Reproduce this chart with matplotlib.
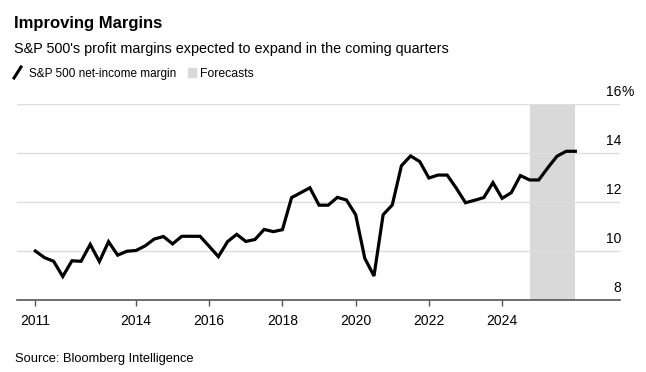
import numpy as np
import matplotlib
matplotlib.use("Agg")
import matplotlib.pyplot as plt
from matplotlib.transforms import blended_transform_factory
from matplotlib.lines import Line2D
from matplotlib.patches import Rectangle

plt.rcParams['font.family'] = ['Liberation Sans', 'DejaVu Sans']

# S&P 500 net-income margin (%), quarterly Q1 2011 .. Q4 2025, last quarters are forecasts
margin = [10.0, 9.73, 9.58, 8.96, 9.6, 9.58, 10.27, 9.57, 10.38, 9.83,
          9.99, 10.02, 10.21, 10.49, 10.59, 10.29, 10.6, 10.6, 10.6, 10.19,
          9.77, 10.38, 10.68, 10.39, 10.47, 10.88, 10.79, 10.87, 12.18, 12.38,
          12.58, 11.87, 11.87, 12.19, 12.08, 11.48, 9.7, 8.98, 11.48, 11.88,
          13.48, 13.88, 13.65, 12.98, 13.1, 13.1, 12.56, 11.97, 12.07, 12.18,
          12.79, 12.15, 12.38, 13.08, 12.9, 12.9, 13.4, 13.87, 14.07, 14.07]
first_quarter = 2011.25
forecast_start = 2024.75
forecast_end = 2026.0
year_ticks = [2011.25, 2014, 2016, 2018, 2020, 2022, 2024]
year_labels = ['2011', '2014', '2016', '2018', '2020', '2022', '2024']
y_ticks = [8, 10, 12, 14, 16]

x = first_quarter + 0.25 * np.arange(len(margin))

W, H = 646, 372
fig = plt.figure(figsize=(W / 100, H / 100), dpi=100)
ax = fig.add_axes([17 / W, 72 / H, 603 / W, 196 / H])

ax.axvspan(forecast_start, forecast_end, color='#d9d9d9', lw=0, zorder=0)
for v in y_ticks[1:]:
    ax.axhline(v, color='#dddddd', lw=1.0, zorder=1)
ax.plot(x, margin, color='black', lw=2.3, solid_joinstyle='miter', zorder=3)

ax.set_xlim(2010.75, 2027.22)
ax.set_ylim(8, 16)
for s in ['left', 'right', 'top']:
    ax.spines[s].set_visible(False)
ax.spines['bottom'].set_color('#555555')
ax.spines['bottom'].set_linewidth(1.2)
ax.set_xticks(year_ticks)
ax.set_xticklabels(year_labels)
ax.tick_params(axis='x', length=4, width=1, color='#555555', pad=6, labelsize=10, labelcolor='black')
ax.set_yticks([])

trans = blended_transform_factory(ax.transAxes, ax.transData)
for v in y_ticks:
    ax.annotate(str(v), xy=(1, v), xycoords=trans, xytext=(1, 3.5),
                textcoords='offset points', ha='right', va='bottom', fontsize=10)
ax.annotate('%', xy=(1, 16), xycoords=trans, xytext=(1, 3.5),
            textcoords='offset points', ha='left', va='bottom', fontsize=10)

fig.text(14 / W, 1 - 28 / H, 'Improving Margins', fontsize=12, fontweight='bold', va='baseline')
fig.text(14 / W, 1 - 53 / H, "S&P 500's profit margins expected to expand in the coming quarters",
         fontsize=10.4, va='baseline')

fig.add_artist(Line2D([14 / W, 21 / W], [1 - 78 / H, 1 - 67 / H], color='black', lw=2.2,
                      transform=fig.transFigure))
fig.text(29 / W, 1 - 77 / H, 'S&P 500 net-income margin', fontsize=8.5, va='baseline')
fig.add_artist(Rectangle((188 / W, 1 - 77 / H), 8 / W, 9 / H, color='#d9d9d9',
                         transform=fig.transFigure))
fig.text(200 / W, 1 - 77 / H, 'Forecasts', fontsize=8.8, va='baseline')

fig.text(15 / W, 1 - 362 / H, 'Source: Bloomberg Intelligence', fontsize=9.3, va='baseline')

fig.savefig('out.png', dpi=100)
